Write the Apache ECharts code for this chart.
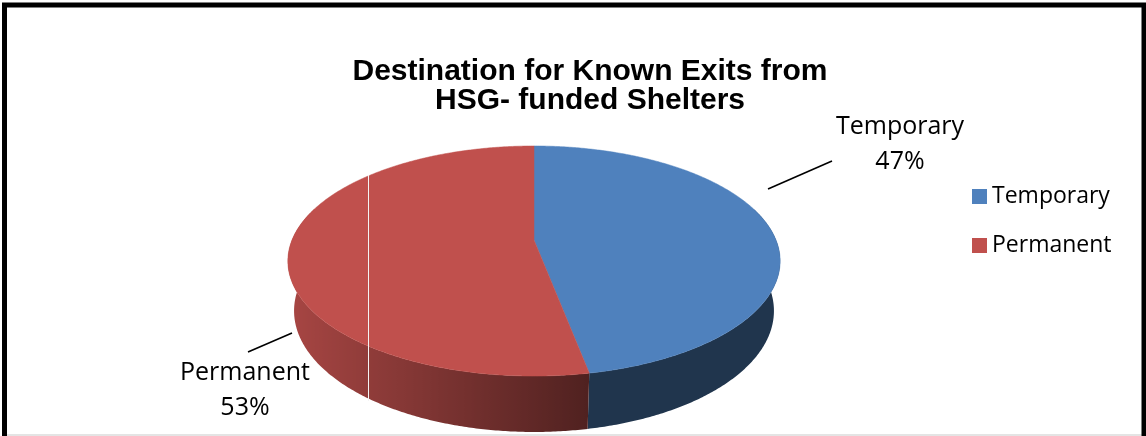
<!DOCTYPE html>
<html>
<head>
<meta charset="utf-8">
<script src="https://cdn.jsdelivr.net/npm/echarts@6/dist/echarts.min.js"></script>
<style>
  html, body { margin: 0; padding: 0; background: #fff; }
  #chart { width: 1146px; height: 436px; }
</style>
</head>
<body>
<div id="chart"></div>
<script>
// Exit destinations (share of known exits, %)
const categories = ['Temporary', 'Permanent'];
const shares = [47, 53];

const total = shares.reduce((a, b) => a + b, 0);
const startShare = shares.map((_, i) => shares.slice(0, i).reduce((a, b) => a + b, 0));

// Tilted disc seen in perspective. phi runs clockwise from 12 o'clock,
// h = 0 is the top face, h = 1 the bottom rim of the wall.
const disc = { cx: 534, cy: 240, A: 242, B: 111.2, k: 0.1827, D: 50.5, m: 0.025 };
function project(phi, h) {
  const u = Math.sin(phi), v = -Math.cos(phi);
  const w = 1 - disc.k * v + disc.m * h;
  return [disc.cx + disc.A * u / w, disc.cy + (disc.B * v + disc.D * h) / w];
}

const faceColors = ['#4F81BD', '#C0504D'];
function shade(hex, f) {
  const n = parseInt(hex.slice(1), 16);
  const c = [(n >> 16) & 255, (n >> 8) & 255, n & 255].map(x => Math.max(0, Math.min(255, Math.round(x * f))));
  return 'rgb(' + c.join(',') + ')';
}
// wall lit from the front-left
function wallLight(phi) {
  const u = Math.sin(phi), v = -Math.cos(phi);
  return 0.41 + Math.max(0, -0.45 * u + 0.09 * v);
}

// data label placement: text centre and leader line
const labelPlacement = [
  { at: [900, 144], line: [[768, 189], [832, 161]] },
  { at: [245, 390], line: [[292, 333], [248, 352]] }
];

const DEG = Math.PI / 180;

function renderSlice(params, api) {
  const i = params.seriesIndex;
  const value = api.value(0);
  const a0 = startShare[i] / total * 2 * Math.PI;
  const a1 = a0 + value / total * 2 * Math.PI;
  const base = faceColors[i];
  const children = [];
  const steps = Math.max(2, Math.ceil((a1 - a0) / (0.5 * DEG)));
  const arc = [];
  for (let s = 0; s <= steps; s++) arc.push(a0 + (a1 - a0) * s / steps);

  // outer wall: front-facing part of the arc, shaded by its facing direction
  const front = arc.filter(p => -Math.cos(p) > -0.3);
  if (front.length > 1) {
    const poly = front.map(p => project(p, 0)).concat(front.slice().reverse().map(p => project(p, 1)));
    // colour stops along x, taken while x stays monotonic
    const samples = [];
    let dir = 0;
    for (let j = 0; j < front.length; j++) {
      const x = project(front[j], 0.5)[0];
      if (samples.length) {
        const d = Math.sign(x - samples[samples.length - 1].x);
        if (!dir) dir = d;
        else if (d && d !== dir) break;
      }
      samples.push({ x, c: shade(base, wallLight(front[j])) });
    }
    const xs = samples.map(s => s.x);
    const xmin = Math.min(...xs), xmax = Math.max(...xs);
    const stops = samples
      .map(s => ({ offset: (s.x - xmin) / (xmax - xmin || 1), color: s.c }))
      .sort((p, q) => p.offset - q.offset);
    children.push({
      type: 'polygon',
      shape: { points: poly },
      style: {
        fill: { type: 'linear', x: xmin, y: 0, x2: xmax, y2: 0, global: true, colorStops: stops }
      }
    });
  }

  // top face
  const pts = [[disc.cx, disc.cy]].concat(arc.map(p => project(p, 0)));
  children.push({
    type: 'polygon',
    shape: { points: pts },
    style: { fill: base, stroke: base, lineWidth: 0.5 }
  });

  // leader line and data label
  const lp = labelPlacement[i];
  children.push({
    type: 'line',
    shape: { x1: lp.line[0][0], y1: lp.line[0][1], x2: lp.line[1][0], y2: lp.line[1][1] },
    style: { stroke: '#000', lineWidth: 1.6 }
  });
  children.push({
    type: 'text',
    style: {
      text: categories[i] + '\n' + Math.round(value / total * 100) + '%',
      x: lp.at[0], y: lp.at[1],
      align: 'center', verticalAlign: 'middle',
      font: '25px "Open Sans"', lineHeight: 35, fill: '#000'
    }
  });
  return { type: 'group', children };
}

const chart = echarts.init(document.getElementById('chart'), null, { renderer: 'canvas' });
chart.setOption({
  backgroundColor: '#fff',
  animation: false,
  title: {
    text: 'Destination for Known Exits from\nHSG- funded Shelters',
    left: 590,
    textAlign: 'center',
    top: 57,
    padding: 0,
    textStyle: {
      fontFamily: '"Liberation Sans", Arial, sans-serif',
      fontWeight: 'bold', fontSize: 30, lineHeight: 29, color: '#000'
    }
  },
  legend: {
    orient: 'vertical',
    left: 972, top: 185,
    padding: 0,
    itemWidth: 15, itemHeight: 15, itemGap: 26,
    icon: 'rect',
    data: categories,
    textStyle: { fontFamily: '"Open Sans"', fontSize: 23, lineHeight: 23, color: '#000' }
  },
  graphic: [
    { type: 'line', silent: true, z: 50,
      shape: { x1: 368.5, y1: 175, x2: 368.5, y2: 401 },
      style: { stroke: '#f4f4f4', lineWidth: 1 } },
    { type: 'rect', silent: true, z: 100,
      shape: { x: 4.5, y: 5, width: 1139.5, height: 470 },
      style: { fill: 'transparent', stroke: '#000', lineWidth: 5 } },
    { type: 'line', silent: true,
      shape: { x1: 7, y1: 435, x2: 1142, y2: 435 },
      style: { stroke: '#e4e4e4', lineWidth: 2 } }
  ],
  series: categories.map((name, i) => ({
    type: 'custom',
    name,
    coordinateSystem: 'none',
    itemStyle: { color: faceColors[i] },
    data: [shares[i]],
    renderItem: renderSlice
  }))
});
</script>
</body>
</html>
